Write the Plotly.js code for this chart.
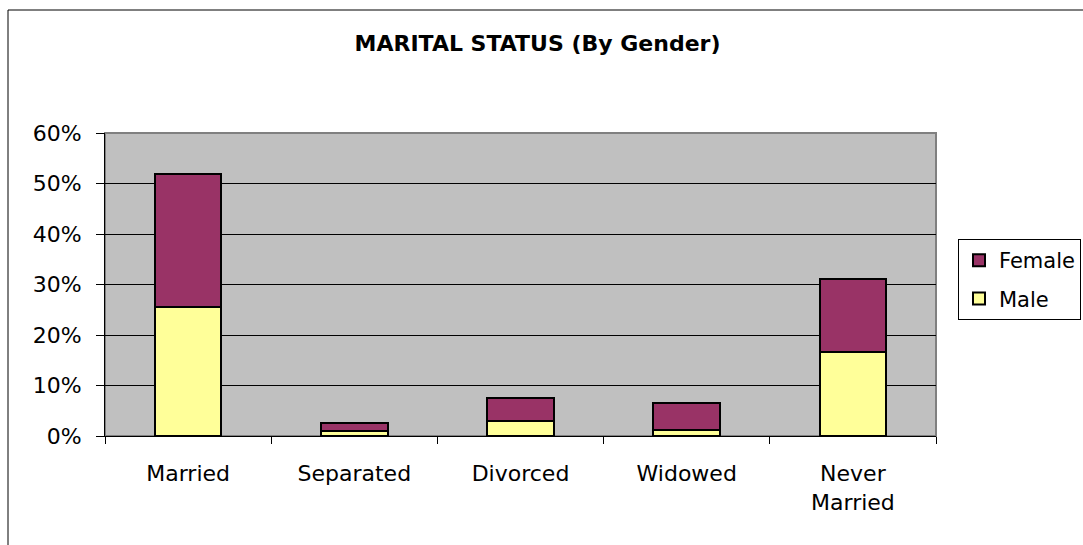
<!DOCTYPE html>
<html>
<head>
<meta charset="utf-8">
<script src="https://cdn.plot.ly/plotly-3.0.1.min.js"></script>
<style>
html,body{margin:0;padding:0;background:#fff;}
#chart{width:1083px;height:545px;}
</style>
</head>
<body>
<div id="chart"></div>
<script>
const categories = ["Married", "Separated", "Divorced", "Widowed", "Never<br>Married"];
const maleValues = [0.256, 0.010, 0.029, 0.012, 0.166];
const femaleValues = [0.263, 0.015, 0.046, 0.054, 0.145];
const yTickValues = [0, 0.1, 0.2, 0.3, 0.4, 0.5, 0.6];
const yTickLabels = ["0%", "10%", "20%", "30%", "40%", "50%", "60%"];

const FONT = "DejaVu Sans, Liberation Sans, Arial, sans-serif";
const L = 105, R = 147, T = 133, B = 109, W = 1083, H = 545;
const pw = W - L - R, ph = H - T - B;
const px = x => (x - L) / pw;
const py = y => (H - B - y) / ph;

const traces = [
  {type: "bar", name: "Male", x: categories, y: maleValues, legendgroup: "m", legendrank: 2,
   marker: {color: "#FFFF99", line: {color: "#000000", width: 2}}},
  {type: "bar", name: "Female", x: categories, y: femaleValues, legendgroup: "f", legendrank: 1,
   marker: {color: "#993366", line: {color: "#000000", width: 2}}}
];

const layout = {
  width: W, height: H,
  margin: {l: L, r: R, t: T, b: B, pad: 0, autoexpand: false},
  paper_bgcolor: "#FFFFFF",
  plot_bgcolor: "#C0C0C0",
  barmode: "stack",
  bargap: 0.6,
  font: {family: FONT, size: 22, color: "#000000"},
  title: {text: "<b>MARITAL STATUS (By Gender)</b>", x: 537.5 / W, xref: "container", xanchor: "center",
          y: 1 - 43 / H, yanchor: "middle", yref: "container",
          font: {family: FONT, size: 22, color: "#000000"}},
  xaxis: {type: "category", tickson: "boundaries", ticks: "outside", ticklen: 7, tickcolor: "#000000",
          showline: true, linecolor: "#000000", linewidth: 1, showgrid: false, zeroline: false,
          ticklabelstandoff: 18, tickfont: {size: 22}, fixedrange: true},
  yaxis: {range: [0, 0.6], tickvals: yTickValues, ticktext: yTickLabels, ticks: "outside", ticklen: 8,
          tickcolor: "#000000", showline: true, linecolor: "#000000", linewidth: 1,
          showgrid: true, gridcolor: "#000000", gridwidth: 1, zeroline: false,
          ticklabelstandoff: 10, tickfont: {size: 22}, fixedrange: true},
  legend: {x: 958 / W, y: 1 - 239 / H, xref: "container", yref: "container",
           xanchor: "left", yanchor: "top", traceorder: "grouped",
           tracegroupgap: 8,
           bordercolor: "#000000", borderwidth: 1, bgcolor: "#FFFFFF",
           font: {size: 21}, itemwidth: 30},
  shapes: [
    {type: "rect", xref: "paper", yref: "paper", x0: 0, x1: 1, y0: 0, y1: 1,
     line: {color: "#808080", width: 2}, layer: "below"},
    {type: "rect", xref: "paper", yref: "paper", x0: px(8), x1: px(1095), y0: py(560), y1: py(10),
     line: {color: "#000000", width: 1}}
  ],
  showlegend: true
};

Plotly.newPlot("chart", traces, layout, {displayModeBar: false, staticPlot: true});
</script>
</body>
</html>
